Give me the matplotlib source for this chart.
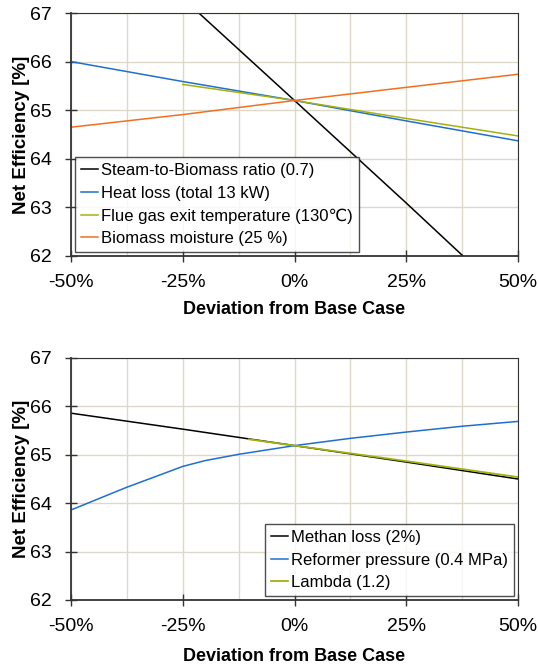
import matplotlib
matplotlib.use("Agg")
import matplotlib.pyplot as plt
from matplotlib.ticker import FixedLocator

plt.rcParams['font.family'] = ['Liberation Sans', 'DejaVu Sans']

# ---- top chart data ----
x_steam = [-21.4, 0, 25, 37.7]
y_steam = [67.0, 65.2, 63.09, 62.0]
x_heat = [-50, -25, 0, 25, 50]
y_heat = [66.0, 65.59, 65.2, 64.78, 64.37]
x_flue = [-25, 0, 25, 50]
y_flue = [65.53, 65.2, 64.83, 64.47]
x_moist = [-50, -25, 0, 25, 50]
y_moist = [64.65, 64.91, 65.2, 65.47, 65.74]

# ---- bottom chart data ----
x_meth = [-50, -25, 0, 25, 50]
y_meth = [65.86, 65.53, 65.19, 64.85, 64.5]
x_ref = [-50, -37.5, -25, -20, -12.5, 0, 12.5, 25, 37.5, 50]
y_ref = [63.86, 64.33, 64.76, 64.88, 65.01, 65.19, 65.34, 65.47, 65.59, 65.69]
x_lam = [-10.2, 0, 25, 50]
y_lam = [65.32, 65.19, 64.87, 64.54]

x_ticks = [-50, -25, 0, 25, 50]
x_tick_labels = ['-50%', '-25%', '0%', '25%', '50%']
y_ticks = [62, 63, 64, 65, 66, 67]

fig = plt.figure(figsize=(5.38, 6.66), dpi=100)
ax1 = fig.add_axes([71/538, 1-256/666, 447/538, 243/666])
ax2 = fig.add_axes([71/538, 1-600/666, 447/538, 242/666])

grid_c = '#dcd9c9'

def style(ax, xpad):
    ax.set_xlim(-50, 50)
    ax.set_ylim(62, 67)
    ax.set_xticks(x_ticks)
    ax.set_xticklabels(x_tick_labels)
    ax.set_yticks(y_ticks)
    ax.xaxis.set_minor_locator(FixedLocator([-37.5, -12.5, 12.5, 37.5]))
    ax.tick_params(axis='x', which='minor', length=0)
    ax.grid(True, which='both', color=grid_c, lw=1.0, zorder=0)
    ax.set_axisbelow(True)
    ax.tick_params(axis='x', which='major', direction='inout', length=8,
                   width=1.0, color='#333333', labelsize=14, pad=9)
    ax.tick_params(axis='y', which='major', direction='inout', length=8,
                   width=1.0, color='#333333', labelsize=14, pad=10)
    for s in ['left', 'bottom']:
        ax.spines[s].set_linewidth(1.3)
        ax.spines[s].set_color('#333333')
    for s in ['top', 'right']:
        ax.spines[s].set_linewidth(0.8)
        ax.spines[s].set_color('#333333')
    ax.set_xlabel('Deviation from Base Case', fontsize=13, fontweight='bold', labelpad=xpad)
    ax.set_ylabel('Net Efficiency [%]', fontsize=13.5, fontweight='bold', labelpad=0)

style(ax1, 7)
style(ax2, 9)

ax1.plot(x_steam, y_steam, color='#000000', lw=1.1, label='Steam-to-Biomass ratio (0.7)')
ax1.plot(x_heat, y_heat, color='#1f6fce', lw=1.1, label='Heat loss (total 13 kW)')
ax1.plot(x_flue, y_flue, color='#a3b10f', lw=1.1, label='Flue gas exit temperature (130\u2103)')
ax1.plot(x_moist, y_moist, color='#f07020', lw=1.1, label='Biomass moisture (25 %)')
leg1 = ax1.legend(loc='lower left', fontsize=12, frameon=True, fancybox=False,
                  edgecolor='#222222', handlelength=1.0, handletextpad=0.2,
                  borderaxespad=0.25, labelspacing=0.45, borderpad=0.35)
leg1.get_frame().set_linewidth(1.0)

ax2.plot(x_meth, y_meth, color='#000000', lw=1.1, label='Methan loss (2%)')
ax2.plot(x_ref, y_ref, color='#1f6fce', lw=1.1, label='Reformer pressure (0.4 MPa)')
ax2.plot(x_lam, y_lam, color='#a3b10f', lw=1.3, label='Lambda (1.2)')
leg2 = ax2.legend(loc='lower right', fontsize=12, frameon=True, fancybox=False,
                  edgecolor='#222222', handlelength=1.0, handletextpad=0.2,
                  borderaxespad=0.25, labelspacing=0.45, borderpad=0.35)
leg2.get_frame().set_linewidth(1.0)

fig.savefig('out.png', dpi=100)
